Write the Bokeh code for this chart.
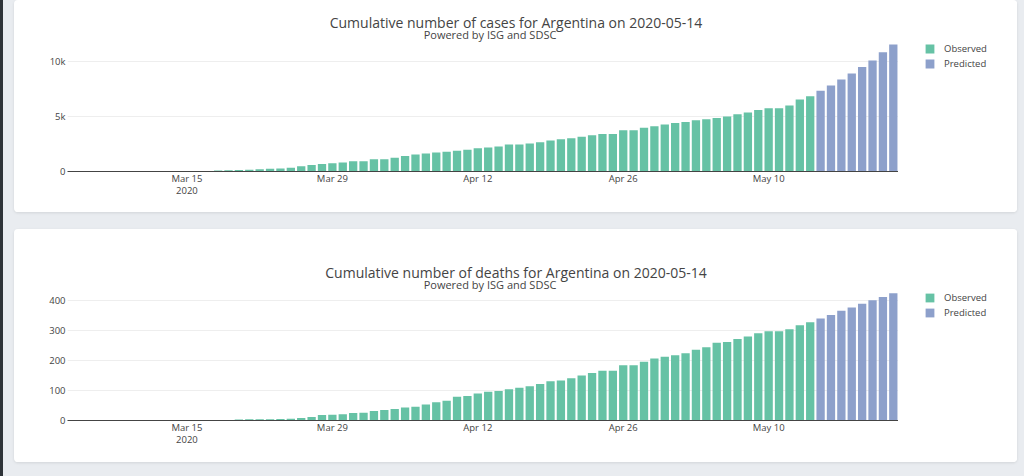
import pandas as pd
from bokeh.plotting import figure
from bokeh.models import (Range1d, FixedTicker, Label, Legend, LegendItem,
                          GlobalInlineStyleSheet)
from bokeh.layouts import column, row
from bokeh.embed import file_html
from bokeh.resources import INLINE

# ---------------- data ----------------
obs_dates = [
    "2020-03-04", "2020-03-06", "2020-03-07", "2020-03-08", "2020-03-09", "2020-03-11",
    "2020-03-13", "2020-03-14", "2020-03-15", "2020-03-16", "2020-03-17", "2020-03-18",
    "2020-03-19", "2020-03-20", "2020-03-21", "2020-03-22", "2020-03-23", "2020-03-24",
    "2020-03-25", "2020-03-26", "2020-03-27", "2020-03-28", "2020-03-29", "2020-03-30",
    "2020-03-31",
    "2020-04-01", "2020-04-02", "2020-04-03", "2020-04-04", "2020-04-05", "2020-04-06",
    "2020-04-07", "2020-04-08", "2020-04-09", "2020-04-10", "2020-04-11", "2020-04-12",
    "2020-04-13", "2020-04-14", "2020-04-15", "2020-04-16", "2020-04-17", "2020-04-18",
    "2020-04-19", "2020-04-20", "2020-04-21", "2020-04-22", "2020-04-23", "2020-04-24",
    "2020-04-25", "2020-04-26", "2020-04-27", "2020-04-28", "2020-04-29", "2020-04-30",
    "2020-05-01", "2020-05-02", "2020-05-03", "2020-05-04", "2020-05-05", "2020-05-06",
    "2020-05-07", "2020-05-08", "2020-05-09", "2020-05-10", "2020-05-11", "2020-05-12",
    "2020-05-13", "2020-05-14",
]
obs_cases = [
    1, 2, 8, 9, 12, 17,
    19, 31, 34, 45, 56, 100, 120, 140, 150, 200, 250, 270, 340, 480, 580, 690, 750, 820, 940,
    940, 1120, 1120, 1240, 1420, 1550, 1640, 1730, 1790, 1880, 1970, 2120, 2180, 2270, 2450,
    2450, 2550, 2670, 2820, 2940, 3030, 3150, 3300, 3420, 3420, 3750, 3750, 3970, 4120, 4270,
    4420, 4510, 4660, 4750, 4870, 5000, 5210, 5360, 5600, 5750, 5750, 6000, 6550, 6850,
]
obs_deaths = [
    0, 0, 0, 1, 2, 2,
    2, 2, 2, 2, 2, 2, 2, 3, 4, 4, 4, 5, 6, 8, 12, 18, 19, 21, 25,
    26, 32, 35, 38, 43, 46, 53, 61, 66, 79, 82, 90, 96, 98, 104,
    109, 114, 122, 131, 133, 141, 150, 158, 166, 166, 184, 184, 196, 207, 213,
    218, 224, 236, 244, 259, 262, 272, 280, 291, 298, 298, 304, 318, 328,
]
pred_dates = ["2020-05-15", "2020-05-16", "2020-05-17", "2020-05-18",
              "2020-05-19", "2020-05-20", "2020-05-21", "2020-05-22"]
pred_cases = [7330, 7810, 8360, 8900, 9500, 10100, 10850, 11550]
pred_deaths = [340, 352, 366, 377, 389, 401, 412, 424]

x_tick_dates = ["2020-03-15", "2020-03-29", "2020-04-12", "2020-04-26", "2020-05-10"]
x_tick_labels = ["Mar 15\n2020", "Mar 29", "Apr 12", "Apr 26", "May 10"]
cases_ticks = [0, 5000, 10000]
cases_tick_labels = ["0", "5k", "10k"]
deaths_ticks = [0, 100, 200, 300, 400]
deaths_tick_labels = ["0", "100", "200", "300", "400"]
legend_labels = ["Observed", "Predicted"]
subtitle = "Powered by ISG and SDSC"

# ---------------- style ----------------
GREEN = "#66c2a5"
BLUE = "#8da0cb"
TXT = "#444444"
FONT = "Open Sans"
DAY_MS = 86400000.0
CARD_W = 1003
MAIN_W = 884          # plot part of the card; the rest holds the legend
LEG_W = CARD_W - MAIN_W
BL = 53
TITLE_CX = CARD_W / 2          # main title centred on the card
SUB_CX = 475.5                 # subtitle centred a little left of it

x_start = pd.Timestamp("2020-03-03 12:00")
x_end = pd.Timestamp("2020-05-22 12:00")


def ms(d):
    return pd.Timestamp(d).value / 1e6


def card(title, obs, pred, y_end, yticks, ylabels, height, b_bottom,
         title_dy, sub_dy, leg_vy):
    frame_w = MAIN_W - BL
    frame_h = height - b_bottom
    p = figure(width=MAIN_W, height=height, x_axis_type="datetime",
               x_range=Range1d(x_start, x_end), y_range=Range1d(0, y_end),
               output_backend="svg", toolbar_location=None,
               min_border_left=BL, min_border_right=0,
               min_border_top=0, min_border_bottom=b_bottom,
               background_fill_color="white", border_fill_color="white",
               outline_line_color=None)
    p.vbar(x=pd.to_datetime(obs_dates), top=obs, width=0.8 * DAY_MS,
           fill_color=GREEN, line_color=None)
    p.vbar(x=pd.to_datetime(pred_dates), top=pred, width=0.8 * DAY_MS,
           fill_color=BLUE, line_color=None)

    # axes
    xt = [ms(d) for d in x_tick_dates]
    p.xaxis.ticker = FixedTicker(ticks=xt)
    p.xaxis.major_label_overrides = {t: l for t, l in zip(xt, x_tick_labels)}
    p.xaxis.axis_line_color = TXT
    p.xaxis.axis_line_width = 1
    p.xaxis.major_tick_line_color = None
    p.xaxis.minor_tick_line_color = None
    p.xaxis.major_tick_out = 0
    p.xaxis.major_label_standoff = 0
    p.xaxis.major_label_text_line_height = 0.95
    p.yaxis.ticker = FixedTicker(ticks=yticks)
    p.yaxis.major_label_overrides = {t: l for t, l in zip(yticks, ylabels)}
    p.yaxis.axis_line_color = None
    p.yaxis.major_tick_line_color = None
    p.yaxis.minor_tick_line_color = None
    p.yaxis.major_tick_out = 0
    p.yaxis.major_label_standoff = 2
    for ax in (p.xaxis, p.yaxis):
        ax.major_label_text_font = FONT
        ax.major_label_text_font_size = "9.5px"
        ax.major_label_text_color = TXT
    p.xgrid.grid_line_color = None
    p.ygrid.grid_line_color = "#eeeeee"
    p.ygrid.grid_line_width = 1

    # titles
    upp = y_end / frame_h
    span = ms(x_end) - ms(x_start)
    xt_c = ms(x_start) + (TITLE_CX - BL) / frame_w * span
    xs_c = ms(x_start) + (SUB_CX - BL) / frame_w * span
    p.add_layout(Label(x=xt_c, y=(frame_h - title_dy) * upp, text=title,
                       text_align="center", text_baseline="middle",
                       text_font=FONT, text_font_size="14px", text_color=TXT))
    p.add_layout(Label(x=xs_c, y=(frame_h - sub_dy) * upp, text=subtitle,
                       text_align="center", text_baseline="middle",
                       text_font=FONT, text_font_size="11px", text_color=TXT))

    # legend part of the card (zero-height key bars only carry the legend colours)
    lg = figure(width=LEG_W, height=height, x_range=Range1d(0, 1), y_range=Range1d(0, 1),
                output_backend="svg", toolbar_location=None,
                x_axis_location=None, y_axis_location=None,
                min_border_left=0, min_border_right=0, min_border_top=0,
                min_border_bottom=0, background_fill_color="white",
                border_fill_color="white", outline_line_color=None)
    lg.xgrid.grid_line_color = None
    lg.ygrid.grid_line_color = None
    k1 = lg.vbar(x=[0.5], top=[0], width=0.1, fill_color=GREEN, line_color=None)
    k2 = lg.vbar(x=[0.5], top=[0], width=0.1, fill_color=BLUE, line_color=None)
    legend = Legend(items=[LegendItem(label=legend_labels[0], renderers=[k1]),
                           LegendItem(label=legend_labels[1], renderers=[k2])],
                    location=(26, leg_vy), padding=0, spacing=2, margin=0,
                    glyph_width=11, glyph_height=11, label_height=11,
                    label_standoff=9, label_text_font=FONT,
                    label_text_font_size="9.5px", label_text_color=TXT,
                    border_line_color=None, background_fill_alpha=0)
    lg.add_layout(legend)
    return row(p, lg, spacing=0,
               styles={"border-radius": "4px", "overflow": "hidden",
                       "background": "white",
                       "box-shadow": "0 1px 3px rgba(0,0,0,0.10)"})


c1 = card("Cumulative number of cases for Argentina on 2020-05-14",
          obs_cases, pred_cases, 15545, cases_ticks, cases_tick_labels,
          height=212, b_bottom=41, title_dy=22, sub_dy=34, leg_vy=101.5)
c2 = card("Cumulative number of deaths for Argentina on 2020-05-14",
          obs_deaths, pred_deaths, 637, deaths_ticks, deaths_tick_labels,
          height=233, b_bottom=42, title_dy=42.5, sub_dy=55, leg_vy=101.5)

css = GlobalInlineStyleSheet(css=(
    "html,body{margin:0;padding:0;"
    "background:linear-gradient(to right,#2e3338 0px,#2e3338 3px,#e9ecf0 3px) !important;}"
))
layout = column(c1, c2, spacing=17, margin=(0, 0, 0, 14), stylesheets=[css])

open("out.html", "w").write(file_html(layout, INLINE))
